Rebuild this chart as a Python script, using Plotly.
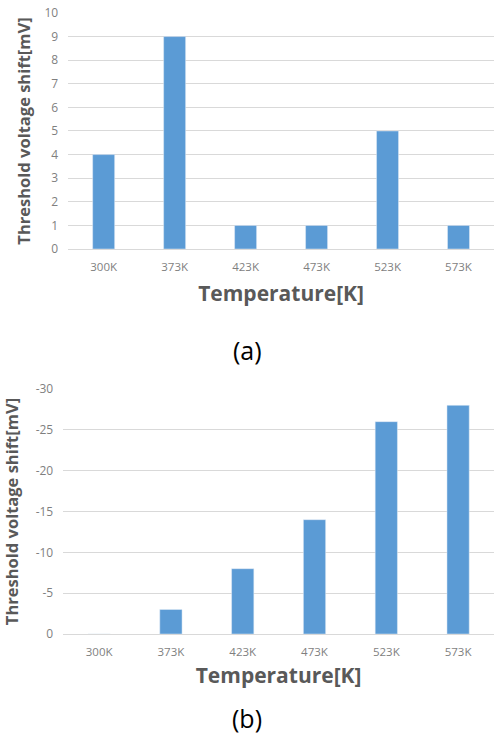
import plotly.graph_objects as go

categories = ["300K", "373K", "423K", "473K", "523K", "573K"]
shift_a = [4, 9, 1, 1, 5, 1]
shift_b = [0, -3, -8, -14, -26, -28]

yticks_a = list(range(0, 11))
yticks_b = [0, -5, -10, -15, -20, -25, -30]
yticklabels_b = ["0", "-5", "-10", "-15", "-20", "-25", "-30"]

BAR = "#5B9BD5"
GRID = "#D9D9D9"
TICK = "#7F7F7F"
TITLE = "#595959"
FONT = "Open Sans"

fig = go.Figure()
fig.add_trace(go.Bar(x=categories, y=shift_a, marker_color=BAR, width=0.31,
                     xaxis="x", yaxis="y", showlegend=False))
fig.add_trace(go.Bar(x=categories, y=shift_b, marker_color=BAR, width=0.31,
                     xaxis="x2", yaxis="y2", showlegend=False))

y_common = dict(showgrid=True, gridcolor=GRID, gridwidth=1, ticks="",
                automargin=False, zeroline=False, ticklabelstandoff=9,
                tickfont=dict(family=FONT, size=12, color=TICK))
x_common = dict(showgrid=False, ticks="", automargin=False,
                ticklabelstandoff=7,
                tickfont=dict(family=FONT, size=11.5, color=TICK),
                showline=True, linecolor=GRID, linewidth=1)

fig.update_layout(
    width=494, height=738,
    margin=dict(l=0, r=0, t=0, b=0),
    paper_bgcolor="white", plot_bgcolor="white",
    font=dict(family=FONT),
    xaxis=dict(domain=[0.138, 1.0], anchor="y",
               title=dict(text="<b>Temperature[K]</b>", standoff=13,
                          font=dict(family=FONT, size=21, color=TITLE)),
               **x_common),
    yaxis=dict(domain=[0.6626, 0.9824], anchor="x", range=[0, 10],
               tickvals=yticks_a,
               title=dict(text="<b>Threshold voltage shift[mV]</b>", standoff=9,
                          font=dict(family=FONT, size=16.5, color=TITLE)),
               **y_common),
    xaxis2=dict(domain=[0.128, 1.0], anchor="y2",
                title=dict(text="<b>Temperature[K]</b>", standoff=10,
                           font=dict(family=FONT, size=21, color=TITLE)),
                **x_common),
    yaxis2=dict(domain=[0.1409, 0.4729], anchor="x2", range=[0, -30],
                tickvals=yticks_b, ticktext=yticklabels_b,
                title=dict(text="<b>Threshold voltage shift[mV]</b>", standoff=14,
                           font=dict(family=FONT, size=16.5, color=TITLE)),
                **y_common),
    annotations=[
        dict(text="(a)", x=0.5, y=1 - 350 / 738, xref="paper", yref="paper",
             yanchor="middle", showarrow=False,
             font=dict(family=FONT, size=25, color="black")),
        dict(text="(b)", x=0.5, y=1 - 718 / 738, xref="paper", yref="paper",
             yanchor="middle", showarrow=False,
             font=dict(family=FONT, size=25, color="black")),
    ],
)

fig.write_html("out.html", config={"displayModeBar": False},
               post_script="document.body.style.margin='0';")
